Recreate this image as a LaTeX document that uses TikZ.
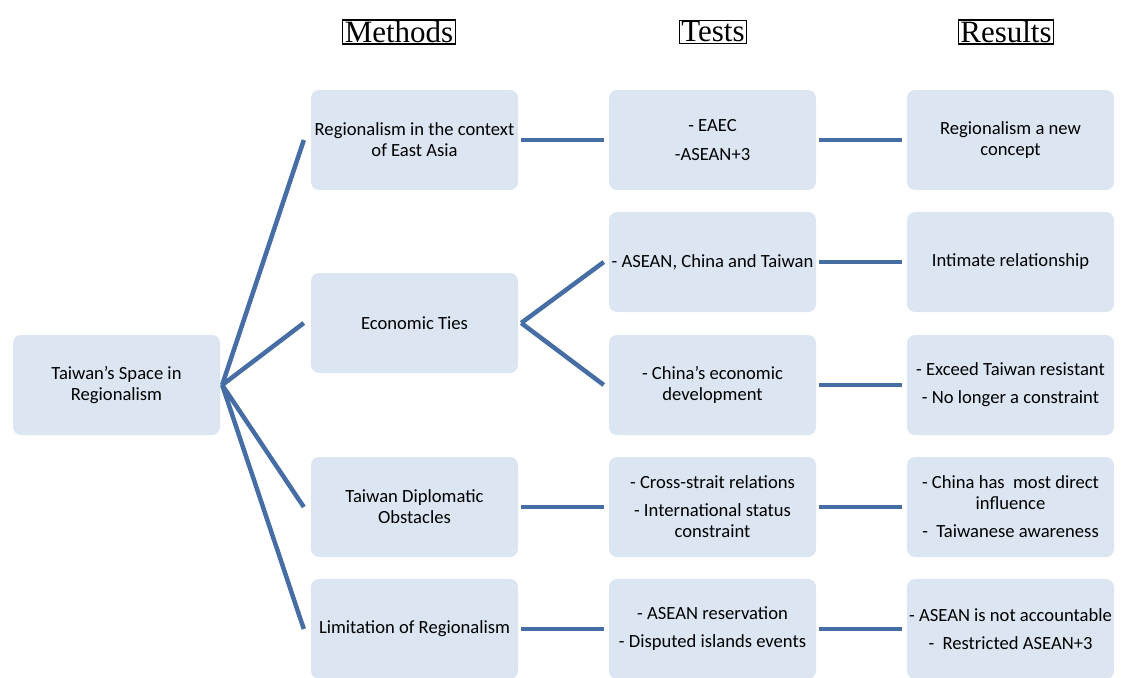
\documentclass[tikz,border=0pt]{standalone}
\usepackage{fontspec}
\setmainfont{Carlito}
\newfontfamily\headfont{Liberation Serif}
\definecolor{boxfill}{RGB}{220,230,242}
\definecolor{linkcol}{RGB}{70,110,165}
\begin{document}
\begin{tikzpicture}[x=1pt,y=-1pt,
  item/.style={rectangle, rounded corners=8pt, fill=boxfill, minimum width=207pt, minimum height=100pt, inner sep=1pt, align=center, font=\fontsize{18.6}{21}\selectfont},
  head/.style={draw=black, line width=1.4pt, inner xsep=2pt, inner ysep=1pt, font=\headfont\fontsize{31}{34}\selectfont},
  link/.style={draw=linkcol, line width=4.5pt}]
\useasboundingbox (0,0) rectangle (1121,677);
% headers
\node[head] (hm) at (399,32) {Methods};
\node[head] (ht) at (713,32) {Tests};
\node[head] (hr) at (1006,32) {Results};
% root
\node[item] (root) at (116.5,385) {Taiwan’s Space in\\Regionalism};
% methods
\node[item] (m1) at (414.5,140) {Regionalism in the context\\of East Asia};
\node[item] (m2) at (414.5,323) {Economic Ties};
\node[item] (m3) at (414.5,507) {Taiwan Diplomatic\\Obstacles};
\node[item] (m4) at (414.5,629) {Limitation of Regionalism};
% tests
\node[item] (t1) at (712.5,140) {- EAEC\\[8pt]-ASEAN+3};
\node[item] (t2) at (712.5,262) {- ASEAN, China and Taiwan};
\node[item] (t3) at (712.5,385) {- China’s economic\\development};
\node[item] (t4) at (712.5,507) {- Cross-strait relations\\[7pt]- International status\\constraint};
\node[item] (t5) at (712.5,629) {- ASEAN reservation\\[7pt]- Disputed islands events};
% results
\node[item] (r1) at (1010.5,140) {Regionalism a new\\concept};
\node[item] (r2) at (1010.5,262) {Intimate relationship};
\node[item] (r3) at (1010.5,385) {- Exceed Taiwan resistant\\[7pt]- No longer a constraint};
\node[item] (r4) at (1010.5,507) {- China has\ \ most direct\\influence\\[7pt]-\ \ Taiwanese awareness};
\node[item] (r5) at (1010.5,629) {- ASEAN is not accountable\\[7pt]-\ \ Restricted ASEAN+3};
% connectors root -> methods
\coordinate (rj) at ([xshift=2pt]root.east);
\foreach \m in {m1,m2,m3,m4}{
  \draw[link] (rj) -- ([xshift=-7pt]\m.west);
}
% methods -> tests
\foreach \a/\b in {m1/t1,m3/t4,m4/t5}{
  \draw[link] ([xshift=3pt]\a.east) -- ([xshift=-5pt]\b.west);
}
\coordinate (mj) at ([xshift=3pt]m2.east);
\draw[link] (mj) -- ([xshift=-5pt]t2.west);
\draw[link] (mj) -- ([xshift=-5pt]t3.west);
% tests -> results
\foreach \a/\b in {t1/r1,t2/r2,t3/r3,t4/r4,t5/r5}{
  \draw[link] ([xshift=3pt]\a.east) -- ([xshift=-5pt]\b.west);
}
\end{tikzpicture}
\end{document}
